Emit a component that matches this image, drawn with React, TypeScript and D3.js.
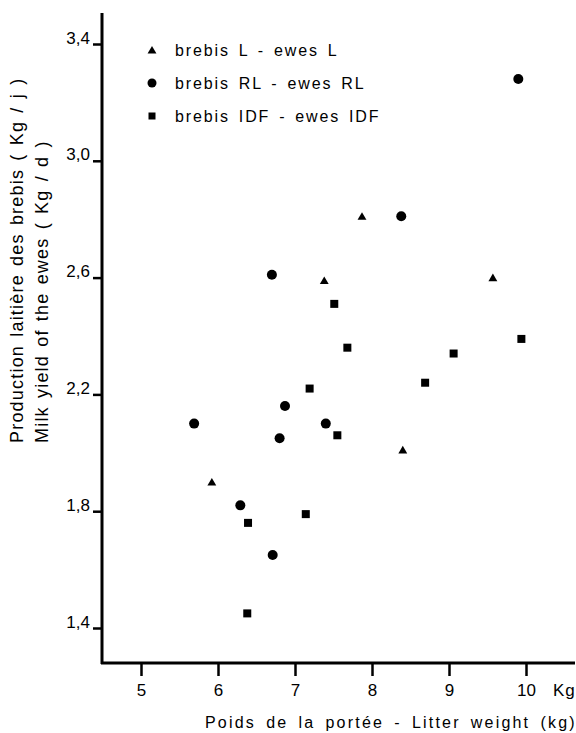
import React, { useRef, useEffect } from 'react';
import * as d3 from 'd3';

// litter weight (kg) / milk yield (kg/d)
const seriesL = [
  [5.92, 1.90], [7.38, 2.59], [7.87, 2.81], [8.40, 2.01], [9.57, 2.60],
];
const seriesRL = [
  [5.69, 2.10], [6.29, 1.82], [6.70, 2.61], [6.71, 1.65], [6.80, 2.05],
  [6.87, 2.16], [7.40, 2.10], [8.38, 2.81], [9.90, 3.28],
];
const seriesIDF = [
  [6.38, 1.45], [6.39, 1.76], [7.14, 1.79], [7.19, 2.22], [7.51, 2.51],
  [7.55, 2.06], [7.68, 2.36], [8.69, 2.24], [9.06, 2.34], [9.94, 2.39],
];
const xTicks = [5, 6, 7, 8, 9, 10];
const yTicks = [1.4, 1.8, 2.2, 2.6, 3.0, 3.4];
const legendLabels = ['brebis L - ewes L', 'brebis RL - ewes RL', 'brebis IDF - ewes IDF'];

const FONT = '"Liberation Sans", Arial, sans-serif';

const App = () => {
  const svgRef = useRef<SVGSVGElement>(null);

  useEffect(() => {
    if (!svgRef.current) return;
    const svg = d3.select(svgRef.current);
    svg.selectAll('*').remove();

    const x = d3.scaleLinear().domain([5, 10]).range([141, 526]);
    const y = d3.scaleLinear().domain([1.4, 3.4]).range([628, 44]);
    const x0 = 102, y0 = 663;

    // axes lines
    svg.append('line').attr('x1', x0).attr('x2', x0).attr('y1', 13).attr('y2', y0 + 1)
      .attr('stroke', '#000').attr('stroke-width', 3);
    svg.append('line').attr('x1', x0 - 1).attr('x2', 575).attr('y1', y0).attr('y2', y0)
      .attr('stroke', '#000').attr('stroke-width', 3);

    const xAxis = svg.append('g')
      .attr('transform', `translate(0,${y0})`)
      .call(d3.axisBottom(x).tickValues(xTicks).tickSize(13).tickPadding(8).tickFormat(d3.format('d')));
    xAxis.select('.domain').remove();
    xAxis.selectAll('line').attr('stroke-width', 2.5);
    xAxis.selectAll('text').style('font-family', FONT).style('font-size', '17px').attr('fill', '#000');

    const yAxis = svg.append('g')
      .attr('transform', `translate(${x0},0)`)
      .call(d3.axisLeft(y).tickValues(yTicks).tickSize(9).tickPadding(3)
        .tickFormat((d: any) => d3.format('.1f')(d).replace('.', ',')));
    yAxis.select('.domain').remove();
    yAxis.selectAll('line').attr('stroke-width', 2.5);
    yAxis.selectAll('text').style('font-family', FONT).style('font-size', '17px').attr('fill', '#000')
      .attr('dy', '-0.05em');

    svg.append('text').attr('x', 553).attr('y', y0 + 33)
      .style('font-family', FONT).style('font-size', '17px').style('letter-spacing', '1px').text('Kg');

    // axis titles
    svg.append('text').attr('x', 205).attr('y', 728)
      .style('font-family', FONT).style('font-size', '16px')
      .style('letter-spacing', '2.2px').style('word-spacing', '3.5px')
      .text('Poids de la portée - Litter weight (kg)');
    svg.append('text').attr('transform', 'translate(23,443) rotate(-90)')
      .style('font-family', FONT).style('font-size', '18px')
      .style('letter-spacing', '1.2px').style('word-spacing', '2px')
      .text('Production laitière des brebis ( Kg / j )');
    svg.append('text').attr('transform', 'translate(48,443) rotate(-90)')
      .style('font-family', FONT).style('font-size', '18px')
      .style('letter-spacing', '1.2px').style('word-spacing', '2px')
      .text('Milk yield of the ewes ( Kg / d )');

    const tri = d3.symbol().type(d3.symbolTriangle).size(34);
    const g = svg.append('g');
    g.selectAll('path.l').data(seriesL).join('path')
      .attr('class', 'l')
      .attr('d', tri as any)
      .attr('transform', d => `translate(${x(d[0])},${y(d[1]) + 1})`)
      .attr('fill', '#000');
    g.selectAll('circle.rl').data(seriesRL).join('circle')
      .attr('class', 'rl')
      .attr('cx', d => x(d[0])).attr('cy', d => y(d[1])).attr('r', 5).attr('fill', '#000');
    g.selectAll('rect.idf').data(seriesIDF).join('rect')
      .attr('class', 'idf')
      .attr('x', d => x(d[0]) - 4).attr('y', d => y(d[1]) - 4)
      .attr('width', 8).attr('height', 8).attr('fill', '#000');

    // legend
    const legend = svg.append('g').attr('transform', 'translate(152,50)');
    legendLabels.forEach((lab, i) => {
      const row = legend.append('g').attr('transform', `translate(0,${i * 33})`);
      if (i === 0) row.append('path').attr('d', tri as any).attr('transform', 'translate(0,1)').attr('fill', '#000');
      if (i === 1) row.append('circle').attr('r', 4.5).attr('fill', '#000');
      if (i === 2) row.append('rect').attr('x', -3.5).attr('y', -3.5).attr('width', 7).attr('height', 7).attr('fill', '#000');
      row.append('text').attr('x', 23).attr('y', 5.5)
        .style('font-family', FONT).style('font-size', '16px')
        .style('letter-spacing', '1.9px').style('word-spacing', '2.5px')
        .text(lab);
    });
  }, []);

  return (
    <svg ref={svgRef} width={576} height={733}
      style={{ position: 'absolute', left: 0, top: 0, background: '#fff' }} />
  );
};

export default App;
